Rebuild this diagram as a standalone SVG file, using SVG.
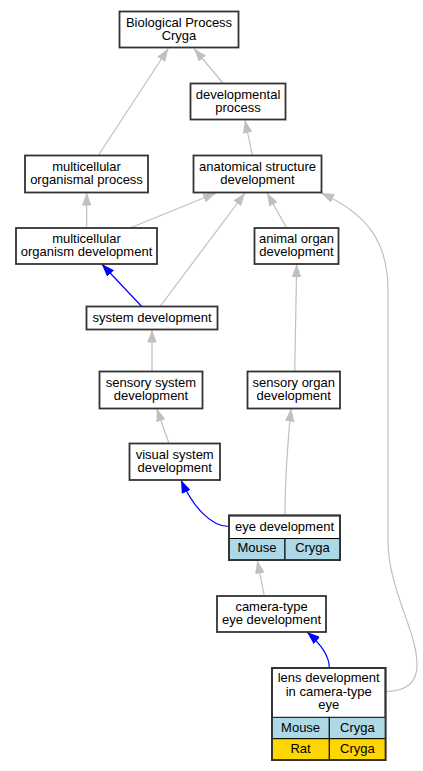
<svg xmlns="http://www.w3.org/2000/svg" width="423" height="771" viewBox="0 0 423 771">
<defs>
<marker id="ag" viewBox="0 0 13 9.5" refX="13" refY="4.75" markerWidth="13" markerHeight="9.5" markerUnits="userSpaceOnUse" orient="auto"><path d="M0,0 L13,4.75 L0,9.5 z" fill="#c0c0c0"/></marker>
<marker id="ab" viewBox="0 0 13 9.5" refX="13" refY="4.75" markerWidth="13" markerHeight="9.5" markerUnits="userSpaceOnUse" orient="auto"><path d="M0,0 L13,4.75 L0,9.5 z" fill="#0000ff"/></marker>
</defs>
<style>
text{font-family:"Liberation Sans",Arial,sans-serif;font-size:13px;fill:#000;text-anchor:middle}
.box{fill:#fff;stroke:#333;stroke-width:1.8}
.cell{stroke:#000;stroke-width:1}
.blue{fill:#add8e6}
.gold{fill:#ffd700}
.g{fill:none;stroke:#c0c0c0;stroke-width:1.2;marker-end:url(#ag)}
.b{fill:none;stroke:#0000ff;stroke-width:1.2;marker-end:url(#ab)}
</style>
<rect width="423" height="771" fill="#fff"/>
<g id="edges">
<path class="g" d="M223.3,83.5 L194,48.5"/>
<path class="g" d="M98.3,155.5 L168.3,48.5"/>
<path class="g" d="M252.3,155.5 L245,120"/>
<path class="g" d="M86.7,228 L86.7,192.5"/>
<path class="g" d="M130,228 L216,193"/>
<path class="g" d="M160,306.5 L245,193"/>
<path class="g" d="M286.7,228 L267,193"/>
<path class="g" d="M385.5,691.5 C402,691.5 417,686 417,665 C417,630 388,590 388,540 L388,290 C388,245 370,215 321,193"/>
<path class="b" d="M141.7,306.5 L101.7,264"/>
<path class="g" d="M152,371.5 L152,329.5"/>
<path class="g" d="M294.7,371.5 L296.7,264"/>
<path class="g" d="M169,443.5 L156.7,408.5"/>
<path class="b" d="M229,526.5 C210,526.5 192,505 181,480"/>
<path class="g" d="M285,515.5 C285,480 288,440 291,408.5"/>
<path class="g" d="M264.3,596 L257.3,560.5"/>
<path class="b" d="M329.3,668 C329.5,657 322,645 307,632"/>
</g>
<g id="n_bp"><rect class="box" x="119.5" y="11.5" width="119" height="36"/><text x="179" y="26.5">Biological Process</text><text x="179" y="39.5">Cryga</text></g>
<g id="n_devproc"><rect class="box" x="190.5" y="83.5" width="95" height="36"/><text x="238" y="98.5">developmental</text><text x="238" y="111.5">process</text></g>
<g id="n_mop"><rect class="box" x="25" y="155.5" width="123" height="37"/><text x="86.5" y="170.5">multicellular</text><text x="86.5" y="183.5">organismal process</text></g>
<g id="n_asd"><rect class="box" x="193.5" y="155.5" width="128" height="37"/><text x="257.5" y="170.5">anatomical structure</text><text x="257.5" y="183.5">development</text></g>
<g id="n_mod"><rect class="box" x="16" y="228" width="141" height="36"/><text x="86.5" y="242.5">multicellular</text><text x="86.5" y="255.5">organism development</text></g>
<g id="n_aod"><rect class="box" x="254.5" y="228" width="84" height="36"/><text x="296.5" y="242.5">animal organ</text><text x="296.5" y="255.5">development</text></g>
<g id="n_sysdev"><rect class="box" x="86.5" y="306.5" width="131" height="23"/><text x="152" y="322">system development</text></g>
<g id="n_ssd"><rect class="box" x="99.5" y="371.5" width="103" height="37"/><text x="151" y="386.5">sensory system</text><text x="151" y="399.5">development</text></g>
<g id="n_sod"><rect class="box" x="247.5" y="371.5" width="92.5" height="37"/><text x="293.7" y="386.5">sensory organ</text><text x="293.7" y="399.5">development</text></g>
<g id="n_vsd"><rect class="box" x="129.5" y="443.5" width="90.5" height="36.5"/><text x="174.7" y="458.5">visual system</text><text x="174.7" y="471.5">development</text></g>
<g id="n_eye">
<rect class="box" x="229" y="515.5" width="111" height="44.5"/>
<rect class="cell blue" x="229" y="538.5" width="56" height="21.5"/>
<rect class="cell blue" x="285" y="538.5" width="55" height="21.5"/>
<rect x="229" y="515.5" width="111" height="44.5" fill="none" stroke="#333" stroke-width="1.8"/>
<text x="284.5" y="530.5">eye development</text>
<text x="257" y="552">Mouse</text><text x="312.5" y="552">Cryga</text>
</g>
<g id="n_camera"><rect class="box" x="217" y="596" width="109" height="36"/><text x="271.5" y="610.5">camera-type</text><text x="271.5" y="623.5">eye development</text></g>
<g id="n_lens">
<rect class="box" x="272" y="668" width="113.5" height="92"/>
<rect class="cell blue" x="272" y="717.3" width="57.3" height="21.4"/>
<rect class="cell blue" x="329.3" y="717.3" width="56.2" height="21.4"/>
<rect class="cell gold" x="272" y="738.7" width="57.3" height="21.3"/>
<rect class="cell gold" x="329.3" y="738.7" width="56.2" height="21.3"/>
<rect x="272" y="668" width="113.5" height="92" fill="none" stroke="#333" stroke-width="1.8"/>
<text x="328.7" y="682">lens development</text><text x="328.7" y="695.5">in camera-type</text><text x="328.7" y="709">eye</text>
<text x="300.6" y="731.5">Mouse</text><text x="357.4" y="731.5">Cryga</text>
<text x="300.6" y="752.5">Rat</text><text x="357.4" y="752.5">Cryga</text>
</g>
</svg>
